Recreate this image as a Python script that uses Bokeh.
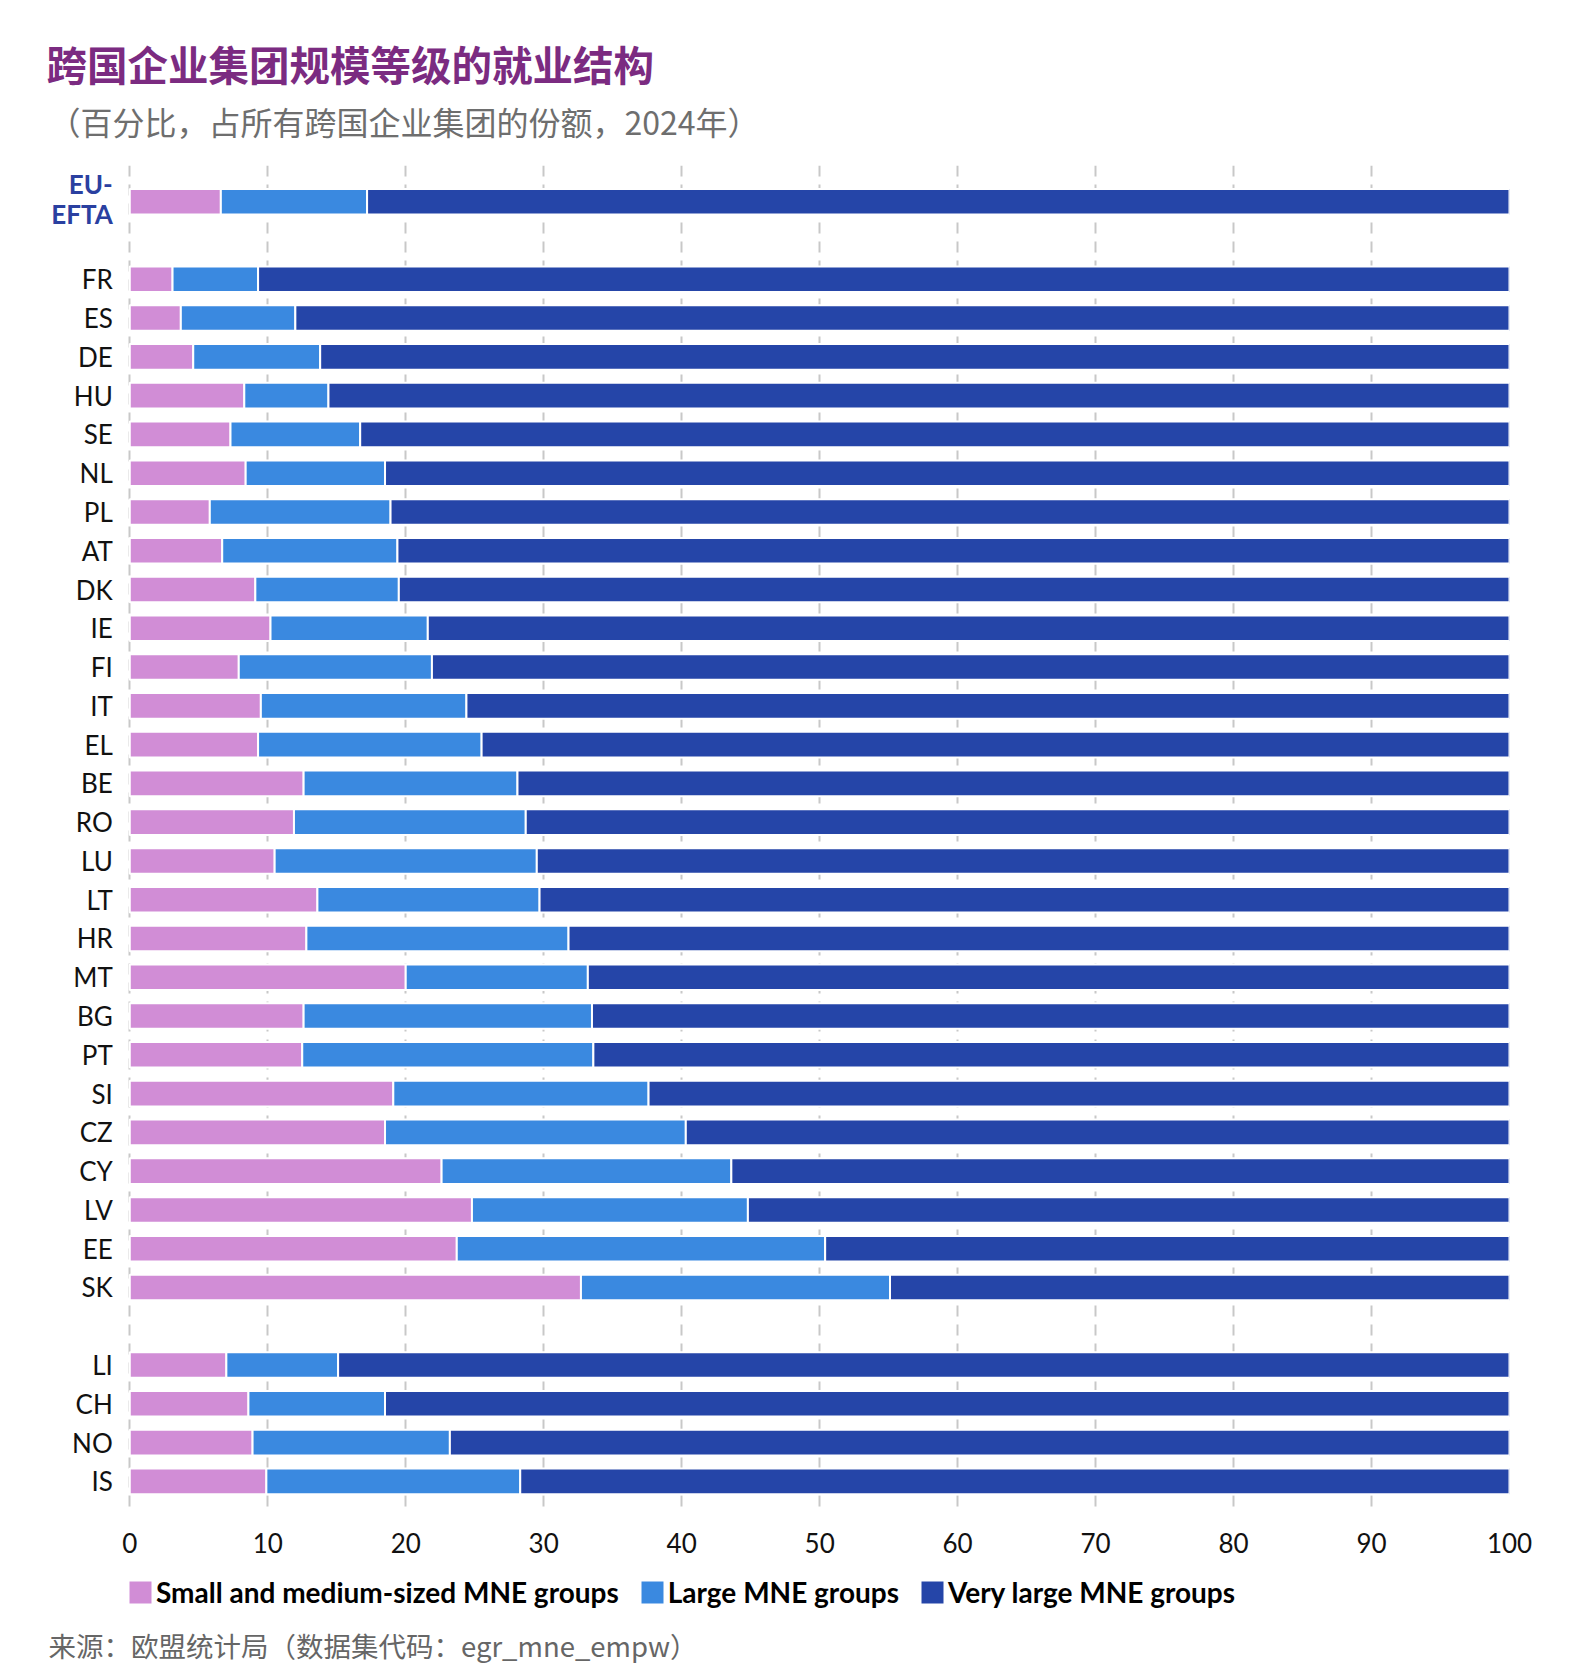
from bokeh.plotting import figure
from bokeh.models import ColumnDataSource, FixedTicker, Range1d, Legend, LegendItem, Label
from bokeh.layouts import column
from bokeh.core.properties import value
from bokeh.embed import file_html
from bokeh.resources import INLINE

countries = ["EU-EFTA", "FR", "ES", "DE", "HU", "SE", "NL", "PL", "AT", "DK",
             "IE", "FI", "IT", "EL", "BE", "RO", "LU", "LT", "HR", "MT",
             "BG", "PT", "SI", "CZ", "CY", "LV", "EE", "SK",
             "LI", "CH", "NO", "IS"]
small = [6.6, 3.1, 3.7, 4.6, 8.3, 7.3, 8.4, 5.8, 6.7, 9.1,
         10.2, 7.9, 9.5, 9.3, 12.6, 11.9, 10.5, 13.6, 12.8, 20.0,
         12.6, 12.5, 19.1, 18.5, 22.6, 24.8, 23.7, 32.7,
         7.0, 8.6, 8.9, 9.9]
large = [10.6, 6.2, 8.3, 9.2, 6.1, 9.4, 10.1, 13.1, 12.7, 10.4,
         11.4, 14.0, 14.9, 16.2, 15.5, 16.8, 19.0, 16.1, 19.0, 13.2,
         20.9, 21.1, 18.5, 21.8, 21.0, 20.0, 26.7, 22.4,
         8.1, 9.9, 14.3, 18.4]
very_large = [82.8, 90.7, 88.0, 86.2, 85.6, 83.3, 81.5, 81.1, 80.6, 80.5,
              78.4, 78.1, 75.6, 74.5, 71.9, 71.3, 70.5, 70.3, 68.2, 66.8,
              66.5, 66.4, 62.4, 59.7, 56.4, 55.2, 49.6, 44.9,
              84.9, 81.5, 76.8, 71.7]
series_names = ["Small and medium-sized MNE groups", "Large MNE groups", "Very large MNE groups"]
x_ticks = [0, 10, 20, 30, 40, 50, 60, 70, 80, 90, 100]

title_text = "跨国企业集团规模等级的就业结构"
subtitle_text = "（百分比，占所有跨国企业集团的份额，2024年）"
source_text = "来源：欧盟统计局（数据集代码：egr_mne_empw）"

colors = ["#D18DD6", "#3A89E0", "#2545A8"]
W = 1570
HEAD_H = 165
EXTRA_TOP = 171 - HEAD_H  # px of frame above the first grid start

# ---------------- header: title + subtitle ----------------
head = figure(width=W, height=HEAD_H, output_backend="svg", toolbar_location=None,
              x_range=Range1d(0, 1), y_range=Range1d(0, 1),
              x_axis_type=None, y_axis_type=None,
              min_border_left=0, min_border_right=0, min_border_top=0, min_border_bottom=0)
head.outline_line_color = None
head.add_layout(Label(x=26, y=HEAD_H - 63, x_units="screen", y_units="screen",
                      text=title_text, text_font="Noto Sans CJK SC", text_font_style="bold",
                      text_font_size="40.5px", text_color="#7B2B81", text_baseline="middle"))
head.add_layout(Label(x=28, y=HEAD_H - 120, x_units="screen", y_units="screen",
                      text=subtitle_text, text_font="Noto Sans CJK SC",
                      text_font_size="32px", text_color="#6E6E6E", text_baseline="middle"))

# ---------------- main chart ----------------
n_eu_end = countries.index("SK")
pos = [i + (1 if i >= 1 else 0) + (1 if i > n_eu_end else 0) for i in range(len(countries))]
is_agg = [c == "EU-EFTA" for c in countries]
row_label = [c.replace("-", "-\n") for c in countries]
row_style = ["bold" if a else "normal" for a in is_agg]
row_color = ["#2A40A0" if a else "#111111" for a in is_agg]
row_dy = [-3 if a else 0 for a in is_agg]

source = ColumnDataSource(dict(pos=pos, country=countries, small=small,
                               large=large, very_large=very_large,
                               label=row_label, style=row_style, color=row_color,
                               dy=row_dy))

pitch = 38.78
p = figure(width=W, height=1395 + EXTRA_TOP, output_backend="svg", toolbar_location=None,
           x_range=Range1d(-7.92, 100),
           y_range=Range1d(max(pos) + 0.70, -0.78 - EXTRA_TOP / pitch),
           y_axis_type=None,
           min_border_left=20, min_border_right=61, min_border_top=0,
           min_border_bottom=58)
p.outline_line_color = None

renderers = p.hbar_stack(["small", "large", "very_large"], y="pos", height=0.66,
                         color=colors, line_color="white", line_width=2,
                         source=source)

p.text(x=0, y="pos", text="label", source=source, x_offset=-17, y_offset="dy",
       text_align="right", text_baseline="middle", text_font=value("Lato"),
       text_font_size=value("26px"), text_font_style="style", text_color="color",
       text_line_height=0.93)

p.xgrid.ticker = FixedTicker(ticks=x_ticks)
p.xgrid.grid_line_color = "#C8C8C8"
p.xgrid.grid_line_width = 2
p.xgrid.grid_line_dash = "11 8"

p.xaxis.ticker = FixedTicker(ticks=x_ticks)
p.xaxis.axis_line_color = None
p.xaxis.major_tick_line_color = None
p.xaxis.minor_tick_line_color = None
p.xaxis.major_tick_out = 0
p.xaxis.major_tick_in = 0
p.xaxis.major_label_standoff = 24
p.xaxis.major_label_text_font = "Lato"
p.xaxis.major_label_text_font_size = "26px"
p.xaxis.major_label_text_color = "#111111"

# ---------------- footer: legend + source ----------------
foot = figure(width=W, height=100, output_backend="svg", toolbar_location=None,
              x_range=Range1d(0, 1), y_range=Range1d(0, 1),
              x_axis_type=None, y_axis_type=None,
              min_border_left=0, min_border_right=0, min_border_top=0, min_border_bottom=0)
foot.outline_line_color = None
# legend swatch carriers (kept outside the visible range)
proxy_src = ColumnDataSource(dict(y=[10], right=[0]))
proxies = [foot.hbar(y="y", right="right", height=0.5, source=proxy_src, color=c,
                     line_color="white", line_width=2) for c in colors]
legend = Legend(items=[LegendItem(label=n, renderers=[r]) for n, r in zip(series_names, proxies)],
                orientation="horizontal", location=(105, 57))
legend.label_text_font = "Lato"
legend.label_text_font_style = "bold"
legend.label_text_font_size = "28px"
legend.label_text_color = "#000000"
legend.glyph_width = 30
legend.glyph_height = 30
legend.label_standoff = 1
legend.spacing = 18
legend.padding = 0
legend.margin = 0
legend.border_line_color = None
legend.background_fill_alpha = 0
foot.add_layout(legend)
foot.add_layout(Label(x=28, y=22, x_units="screen", y_units="screen",
                      text=source_text, text_font="Noto Sans CJK SC",
                      text_font_size="27.5px", text_color="#666666", text_baseline="middle"))

layout = column(head, p, foot, spacing=0)
open("out.html", "w").write(file_html(layout, INLINE))
